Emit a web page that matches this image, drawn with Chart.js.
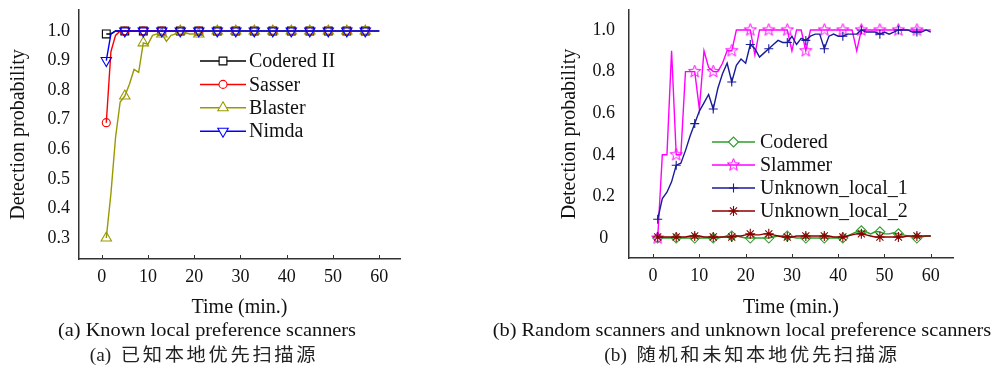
<!DOCTYPE html>
<html>
<head>
<meta charset="utf-8">
<script src="https://cdn.jsdelivr.net/npm/chart.js@4.4.1/dist/chart.umd.min.js"></script>
<style>
  body { margin: 0; background: #fff; width: 1001px; height: 367px; position: relative; overflow: hidden; }
  canvas { position: absolute; top: 0; }
  #chartA { left: 0; }
  #chartB { left: 540px; }
  .cap { position: absolute; white-space: nowrap; color: #111; line-height: 20px;
         font-family: 'Liberation Serif', 'Noto Sans CJK SC', serif; font-size: 19px;
         transform: translateX(-50%) scaleX(1.07); }
  .zh { font-size: 18px; color: #222; }
  .zh span { letter-spacing: 2.5px; }
</style>
</head>
<body>
<canvas id="chartA" width="410" height="320"></canvas>
<canvas id="chartB" width="461" height="320"></canvas>
<div class="cap" style="left:207px; top:320px;">(a) Known local preference scanners</div>
<div class="cap zh" style="left:204px; top:345px;">(a)&nbsp; <span>已知本地优先扫描源</span></div>
<div class="cap" style="left:742px; top:320px;">(b) Random scanners and unknown local preference scanners</div>
<div class="cap zh" style="left:752px; top:345px;">(b)&nbsp; <span>随机和未知本地优先扫描源</span></div>
<script>
// time axis (minutes), one sample per minute
const timeMin = [
  1, 2, 3, 4, 5, 6, 7, 8, 9, 10, 11, 12, 13, 14, 15, 16, 17, 18, 19, 20,
  21, 22, 23, 24, 25, 26, 27, 28, 29, 30, 31, 32, 33, 34, 35, 36, 37, 38, 39, 40,
  41, 42, 43, 44, 45, 46, 47, 48, 49, 50, 51, 52, 53, 54, 55, 56, 57, 58, 59, 60
];
const xTicks = [0, 10, 20, 30, 40, 50, 60];
const yTicksA = [0.3, 0.4, 0.5, 0.6, 0.7, 0.8, 0.9, 1.0];
const yLabelsA = ['0.3', '0.4', '0.5', '0.6', '0.7', '0.8', '0.9', '1.0'];
const yTicksB = [0, 0.2, 0.4, 0.6, 0.8, 1.0];
const yLabelsB = ['0', '0.2', '0.4', '0.6', '0.8', '1.0'];

// (a) known local preference scanners
const coderedII = [
  0.99, 0.99, 1, 1, 1, 1, 1, 1, 1, 1, 1, 1, 1, 1, 1, 1, 1, 1, 1, 1,
  1, 1, 1, 1, 1, 1, 1, 1, 1, 1, 1, 1, 1, 1, 1, 1, 1, 1, 1, 1,
  1, 1, 1, 1, 1, 1, 1, 1, 1, 1, 1, 1, 1, 1, 1, 1, 1, 1, 1, 1
];
const sasser = [
  0.69, 0.93, 0.985, 1, 1, 1, 1, 1, 1, 1, 1, 1, 1, 1, 1, 1, 1, 1, 1, 1,
  1, 1, 1, 1, 1, 1, 1, 1, 1, 1, 1, 1, 1, 1, 1, 1, 1, 1, 1, 1,
  1, 1, 1, 1, 1, 1, 1, 1, 1, 1, 1, 1, 1, 1, 1, 1, 1, 1, 1, 1
];
const blaster = [
  0.30, 0.45, 0.64, 0.76, 0.78, 0.82, 0.87, 0.86, 0.96, 0.955,
  0.985, 0.99, 0.99, 0.965, 0.985, 0.99, 1, 0.995, 0.99, 0.99,
  0.99, 1, 1, 1, 1, 1, 1, 1, 1, 1, 1, 1, 1, 1, 1, 1, 1, 1, 1, 1,
  1, 1, 1, 1, 1, 1, 1, 1, 1, 1, 1, 1, 1, 1, 1, 1, 1, 1, 1, 1
];
const nimda = [
  0.90, 0.99, 1, 1, 1, 1, 1, 1, 1, 1, 1, 1, 1, 1, 1, 1, 1, 1, 1, 1,
  1, 1, 1, 1, 1, 1, 1, 1, 1, 1, 1, 1, 1, 1, 1, 1, 1, 1, 1, 1,
  1, 1, 1, 1, 1, 1, 1, 1, 1, 1, 1, 1, 1, 1, 1, 1, 1, 1, 1, 1
];

// (b) random scanners and unknown local preference scanners
const codered = [
  0, 0, 0, 0, 0, 0, 0, 0, 0, 0,
  0, 0, 0, 0, 0.005, 0.01, 0.01, 0.01, 0.005, 0,
  0, 0, 0, 0, 0, 0.005, 0.01, 0.01, 0.01, 0.005,
  0, 0, 0, 0, 0, 0, 0, 0, 0, 0,
  0, 0.01, 0.02, 0.03, 0.035, 0.03, 0.02, 0.03, 0.03, 0.02,
  0.02, 0.025, 0.02, 0.015, 0.01, 0.005, 0, 0.005, 0.01, 0.01
];
const slammer = [
  0, 0.4, 0.4, 0.9, 0.4, 0.4, 0.8, 0.8, 0.8, 0.62,
  0.9, 0.82, 0.8, 0.8, 0.84, 0.9, 0.9, 1, 1, 1,
  1, 0.88, 1, 1, 1, 1, 1, 1, 1, 0.9,
  1, 1, 0.9, 1, 1, 1, 1, 1, 1, 1,
  1, 1, 1, 0.9, 1, 1, 1, 1, 1, 1,
  1, 1, 1, 1, 1, 1, 1, 1, 1, 1
];
const unknownLocal1 = [
  0.09, 0.19, 0.22, 0.27, 0.35, 0.36, 0.42, 0.49, 0.55, 0.61,
  0.65, 0.69, 0.62, 0.72, 0.79, 0.84, 0.75, 0.83, 0.86, 0.84,
  0.93, 0.91, 0.87, 0.89, 0.91, 0.93, 0.95, 0.94, 0.94, 0.97,
  0.93, 0.96, 0.95, 0.97, 0.98, 0.98, 0.91, 0.97, 0.98, 0.97,
  0.97, 0.98, 0.98, 0.98, 1, 0.99, 0.99, 0.99, 0.98, 0.99,
  0.98, 0.99, 1, 1, 1, 0.99, 0.99, 0.99, 1, 0.99
];
const unknownLocal2 = [
  0.005, 0.005, 0.005, 0.005, 0.005, 0.005, 0.005, 0.01, 0.01, 0.01,
  0.005, 0.005, 0.005, 0.005, 0.005, 0.005, 0.005, 0.01, 0.01, 0.015,
  0.02, 0.015, 0.015, 0.02, 0.02, 0.015, 0.01, 0.005, 0.005, 0.005,
  0.01, 0.01, 0.01, 0.01, 0.01, 0.01, 0.01, 0.01, 0.005, 0.005,
  0.005, 0.01, 0.015, 0.02, 0.02, 0.015, 0.01, 0.005, 0.005, 0.005,
  0.005, 0.005, 0.005, 0.005, 0.01, 0.01, 0.01, 0.01, 0.01, 0.01
];

const FONT = "'Liberation Serif', 'Times New Roman', serif";
const NONE = 'rgba(0,0,0,0)';

// hollow five-point star, Chart.js has no pentagram point style
const pentagram = (() => {
  const c = document.createElement('canvas');
  c.width = c.height = 15;
  const g = c.getContext('2d');
  g.strokeStyle = '#ff00ff';
  g.lineWidth = 1;
  g.beginPath();
  for (let i = 0; i < 10; i++) {
    const r = i % 2 ? 2.7 : 6.5;
    const a = -Math.PI / 2 + i * Math.PI / 5;
    const px = 7.5 + r * Math.cos(a), py = 7.5 + r * Math.sin(a);
    i ? g.lineTo(px, py) : g.moveTo(px, py);
  }
  g.closePath();
  g.stroke();
  return c;
})();

const series = (label, values, color, style, radius, rotation = 0) => ({
  label,
  data: timeMin.map((t, i) => ({ x: t, y: values[i] })),
  borderColor: color,
  backgroundColor: NONE,
  borderWidth: 1.4,
  pointStyle: style,
  pointRotation: rotation,
  pointBorderColor: color,
  pointBackgroundColor: NONE,
  pointBorderWidth: 1.1,
  pointRadius: ctx => (ctx.dataIndex % 4 === 0 ? radius : 0),
  pointHoverRadius: 0,
  markerRadius: radius,
  tension: 0,
  fill: false
});

// legend with a line segment and marker, like the original plot
const lineLegend = {
  id: 'lineLegend',
  afterDraw(chart, args, opts) {
    const { ctx } = chart;
    ctx.save();
    ctx.font = `20px ${FONT}`;
    ctx.textBaseline = 'middle';
    chart.data.datasets.forEach((ds, i) => {
      const y = opts.top + i * opts.step;
      ctx.strokeStyle = ds.borderColor;
      ctx.lineWidth = 1.5;
      ctx.beginPath();
      ctx.moveTo(opts.x0, y);
      ctx.lineTo(opts.x1, y);
      ctx.stroke();
      ctx.fillStyle = '#fff';
      ctx.lineWidth = 1.1;
      Chart.helpers.drawPoint(ctx, {
        pointStyle: ds.pointStyle, rotation: ds.pointRotation,
        radius: ds.markerRadius, borderWidth: 1.1
      }, (opts.x0 + opts.x1) / 2, y);
      ctx.fillStyle = '#111';
      ctx.fillText(ds.label, opts.tx, y + 1);
    });
    ctx.restore();
  }
};

// short tick marks pointing into the plot
const innerTicks = {
  id: 'innerTicks',
  afterDraw(chart) {
    const { ctx, chartArea, scales: { x } } = chart;
    ctx.save();
    ctx.strokeStyle = '#333';
    ctx.lineWidth = 1;
    x.ticks.forEach(tk => {
      const px = Math.round(x.getPixelForValue(tk.value)) + 0.5;
      ctx.beginPath();
      ctx.moveTo(px, chartArea.bottom);
      ctx.lineTo(px, chartArea.bottom - 4);
      ctx.stroke();
    });
    ctx.restore();
  }
};

function makeChart(canvas, datasets, cfg) {
  return new Chart(canvas, {
    type: 'line',
    data: { datasets },
    plugins: [lineLegend, innerTicks],
    options: {
      responsive: false,
      animation: false,
      events: [],
      layout: { padding: cfg.padding },
      plugins: {
        legend: { display: false },
        tooltip: { enabled: false },
        lineLegend: cfg.legend
      },
      scales: {
        x: {
          type: 'linear',
          min: cfg.xMin, max: cfg.xMax,
          afterBuildTicks: s => { s.ticks = xTicks.map(v => ({ value: v })); },
          afterFit: s => { s.height = cfg.xHeight; s.paddingLeft = 0; s.paddingRight = 0; },
          grid: { display: false, drawTicks: false },
          border: { display: true, color: '#333', width: 1.5 },
          ticks: {
            font: { family: FONT, size: 18 }, color: '#111', padding: 7,
            maxRotation: 0, autoSkip: false, callback: v => String(v)
          },
          title: { display: true, text: 'Time (min.)', font: { family: FONT, size: 20 }, color: '#111', padding: 0 }
        },
        y: {
          min: cfg.yMin, max: cfg.yMax,
          afterBuildTicks: s => { s.ticks = cfg.yTicks.map(v => ({ value: v })); },
          afterFit: s => { s.width = cfg.yWidth; s.paddingTop = 0; s.paddingBottom = 0; },
          grid: { display: false, drawTicks: false },
          border: { display: true, color: '#333', width: 1.5 },
          ticks: {
            font: { family: FONT, size: 18 }, color: '#111',
            padding: cfg.yPad, crossAlign: cfg.yAlign,
            callback: (v, i) => cfg.yLabels[i]
          },
          title: { display: true, text: 'Detection probability', font: { family: FONT, size: 20 }, color: '#111', padding: 0 }
        }
      }
    }
  });
}

const dsA = [
  series('Codered II', coderedII, '#000000', 'rect', 5.5),
  series('Sasser', sasser, '#ff0000', 'circle', 4),
  series('Blaster', blaster, '#999900', 'triangle', 6),
  series('Nimda', nimda, '#0000ff', 'triangle', 6, 180)
];
dsA.forEach((d, i) => { d.order = dsA.length - i; });

makeChart(document.getElementById('chartA'), dsA, {
  padding: { left: 7, right: 10, top: 10, bottom: 0 },
  xMin: -4.9, xMax: 64.5, xHeight: 61,
  yMin: 0.229, yMax: 1.071, yWidth: 72,
  yTicks: yTicksA, yLabels: yLabelsA, yPad: 9, yAlign: 'near',
  legend: { x0: 200, x1: 246, tx: 249, top: 61, step: 23.4 }
});

const dsB = [
  series('Codered', codered, '#2e9e2e', 'rectRot', 5),
  series('Slammer', slammer, '#ff00ff', pentagram, 6.5),
  series('Unknown_local_1', unknownLocal1, '#1a1a9c', 'cross', 4.5),
  series('Unknown_local_2', unknownLocal2, '#8b0000', 'star', 5)
];
dsB.forEach((d, i) => { d.order = dsB.length - i; });

makeChart(document.getElementById('chartB'), dsB, {
  padding: { left: 18, right: 48, top: 10, bottom: 0 },
  xMin: -5.2, xMax: 64.8, xHeight: 62,
  yMin: -0.096, yMax: 1.096, yWidth: 71,
  yTicks: yTicksB, yLabels: yLabelsB, yPad: 14, yAlign: 'center',
  legend: { x0: 172, x1: 215, tx: 220, top: 142, step: 23 }
});
</script>
</body>
</html>
